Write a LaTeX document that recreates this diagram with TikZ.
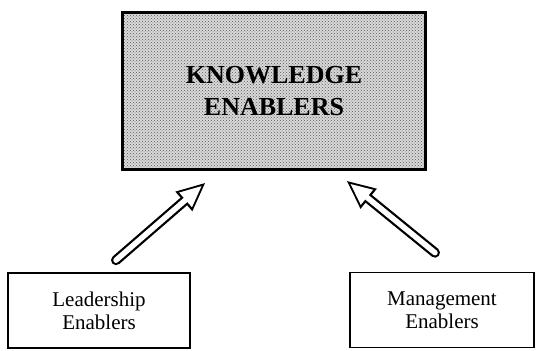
\documentclass[tikz,border=0pt]{standalone}
\usepackage{fontspec}
\setmainfont{Liberation Serif}
\usetikzlibrary{arrows.meta,patterns}

\begin{document}
\begin{tikzpicture}[x=1pt,y=1pt,
  kb/.style={draw,line width=3.2pt,minimum width=303pt,minimum height=157pt,
             preaction={fill=black!15},pattern=crosshatch dots,pattern color=black!65,
             align=center,font=\fontsize{26}{32}\selectfont\bfseries},
  eb/.style={draw,line width=1.6pt,minimum height=75pt,align=center,
             font=\fontsize{21}{23}\selectfont},
  ha/.style={line width=10pt,line cap=round,
             -{Triangle[length=28pt,width=26pt,line width=0pt]},
             postaction={draw=white,line width=5.5pt,shorten <=0pt,shorten >=4.7pt,
               -{Triangle[length=21pt,width=19.5pt,line width=0pt]}}}]
\useasboundingbox (0,0) rectangle (537,350);
\node[kb] (know) at (274,259) {KNOWLEDGE\\ENABLERS};
\node[eb,minimum width=182pt] (lead) at (99,39.5) {Leadership\\Enablers};
\node[eb,minimum width=184pt] (mgmt) at (442,40) {Management\\Enablers};
\draw[ha] ([shift={(17,12)}]lead.north) -- ([shift={(-69,-12)}]know.south);
\draw[ha] ([shift={(-7,19)}]mgmt.north) -- ([shift={(73,-10)}]know.south);
\end{tikzpicture}
\end{document}
